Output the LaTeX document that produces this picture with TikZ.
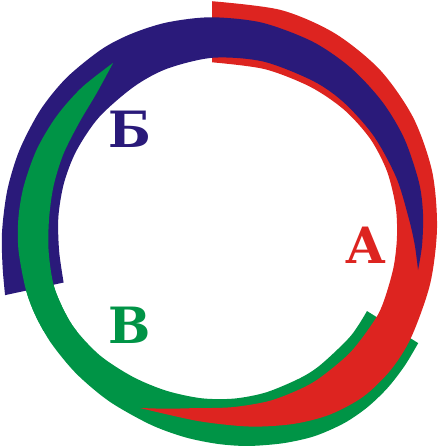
\documentclass[tikz,border=0pt]{standalone}
\usepackage{fontspec}
\newfontfamily\labfont{DejaVu Serif}
\definecolor{cred}{RGB}{221,36,32}
\definecolor{cblue}{RGB}{42,26,122}
\definecolor{cgreen}{RGB}{0,148,70}
\tikzset{lab/.style={anchor=base,inner sep=0pt,font=\labfont\bfseries\fontsize{50}{50}\selectfont},
  ctr/.style={shift={(222,228)}}}
\begin{document}
\begin{tikzpicture}[x=1pt,y=-1pt]
\useasboundingbox (0,0) rectangle (438,447);
\begin{scope}[ctr]
% green band
\fill[cgreen] plot[smooth] coordinates {(30.4:227.5) (37:228.8) (44:230.2) (51:230.8) (58:230.2) (66:227.8) (74:223.8) (83:219.6) (91:216) (100:212.5) (110:209.2) (123:206.8) (135:206) (146:206) (155:206) (163:205.5) (174:204.7) (183:203.8) (192:202.6) (203:201.2) (214:199.7) (225:198.5) (236.6:197.8)}
  -- plot[smooth] coordinates {(236.6:197.8) (227:184) (216.5:177.5) (205:175) (194:173.6) (183:173.2) (172:175) (160:178) (147:178.5) (134:176.5) (121:173.5) (109:172) (97:171.5) (86:171) (75:170.2) (62.5:169.2) (54:168.6) (40:168) (29.8:167.1)} -- cycle;
% red band
\fill[cred] plot[smooth] coordinates {(-92.5:227) (-75:225.8) (-60:225) (-45:223.5) (-30:220.8) (-15:217.6) (0:215) (15:215.5) (30:218.5) (40:220.5) (50:220) (60:215.5) (70:208.5) (82:200.5) (97:194.5) (114.5:197.8)}
  -- plot[smooth] coordinates {(114.5:197.8) (107:189) (100:183) (87:179.5) (75:179.3) (65:179) (57:179) (44:178.7) (31:178.3) (24:177.5) (13:176) (3:175.2) (-7:175) (-19:174.5) (-31:173) (-44:170) (-58:166.5) (-75:164.5) (-93.4:166)} -- cycle;
% blue band
\fill[cblue] plot[smooth] coordinates {(162.8:227.1) (170:222.8) (179:220) (190:218) (201:217) (213:216.6) (224:216.2) (236:215.5) (245:214.3) (255:212.8) (267:211) (281:209.2) (296:207.2) (309:205.5) (322:204) (334:203) (347:202.2) (356:201.5) (365:200.8) (372.1:200.5)}
  -- plot[smooth] coordinates {(372.1:200.5) (365:193.5) (357:187) (344:181.5) (329:177.5) (314.5:175) (302:173) (284:171.5) (267:170.5) (251:168.5) (238:166.5) (222:165.5) (208:164.8) (196:164.3) (184:164) (172:164.5) (161:167.5)} -- cycle;
\end{scope}
% green lies over blue on the left
\begin{scope}
\clip (0,0) rectangle (210,330);
\begin{scope}[ctr]
\fill[cgreen] plot[smooth] coordinates {(30.4:227.5) (37:228.8) (44:230.2) (51:230.8) (58:230.2) (66:227.8) (74:223.8) (83:219.6) (91:216) (100:212.5) (110:209.2) (123:206.8) (135:206) (146:206) (155:206) (163:205.5) (174:204.7) (183:203.8) (192:202.6) (203:201.2) (214:199.7) (225:198.5) (236.6:197.8)}
  -- plot[smooth] coordinates {(236.6:197.8) (227:184) (216.5:177.5) (205:175) (194:173.6) (183:173.2) (172:175) (160:178) (147:178.5) (134:176.5) (121:173.5) (109:172) (97:171.5) (86:171) (75:170.2) (62.5:169.2) (54:168.6) (40:168) (29.8:167.1)} -- cycle;
\end{scope}
\end{scope}
\node[lab,text=cblue] (lb) at (130,147) {Б};
\node[lab,text=cred] (la) at (366,263) {А};
\node[lab,text=cgreen] (lv) at (129.5,343) {В};
\end{tikzpicture}
\end{document}
